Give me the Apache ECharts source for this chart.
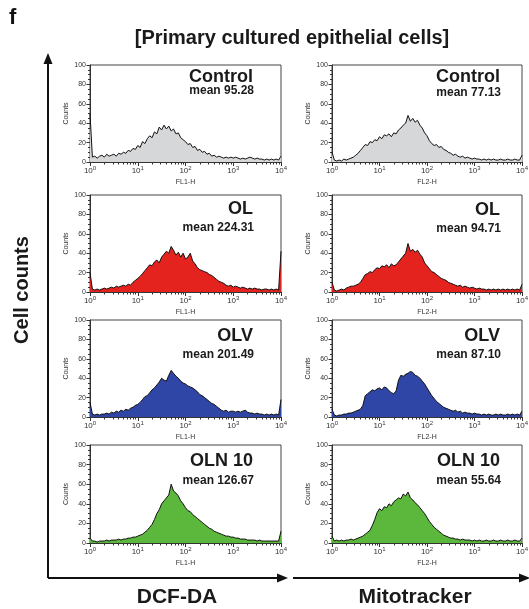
<!DOCTYPE html>
<html><head><meta charset="utf-8">
<script src="https://cdn.jsdelivr.net/npm/echarts@6/dist/echarts.min.js"></script>
<style>html,body{margin:0;padding:0;background:#fff}#c{width:529px;height:609px}</style>
</head><body><div id="c"></div>
<script>
// bin positions in decades (log10 of fluorescence)
const logBins = [0,0.05,0.1,0.15,0.2,0.25,0.3,0.35,0.4,0.45,0.5,0.55,0.6,0.65,0.7,0.75,0.8,0.85,0.9,0.95,
  1,1.05,1.1,1.15,1.2,1.25,1.3,1.35,1.4,1.45,1.5,1.55,1.6,1.65,1.7,1.75,1.8,1.85,1.9,1.95,
  2,2.05,2.1,2.15,2.2,2.25,2.3,2.35,2.4,2.45,2.5,2.55,2.6,2.65,2.7,2.75,2.8,2.85,2.9,2.95,
  3,3.05,3.1,3.15,3.2,3.25,3.3,3.35,3.4,3.45,3.5,3.55,3.6,3.65,3.7,3.75,3.8,3.85,3.9,3.95,4];
const decadeTicks = [0,1,2,3,4];
const yTickStep = 20;

const panelNames = ['Control','OL','OLV','OLN 10'];
const meansDCF = ['95.28','224.31','201.49','126.67'];
const meansMito = ['77.13','94.71','87.10','55.64'];
const channelNames = ['FL1-H','FL2-H'];
const columnTitles = ['DCF-DA','Mitotracker'];
const fillColors = ['#d6d7d9','#e4231f','#2f46a6','#5cb83c'];

const controlFL1 = [50,5,6,4,6,7,5,8,6,7,8,6,9,8,10,9,12,11,14,13,17,15,21,19,24,27,25,31,29,36,33,38,34,37,32,34,29,30,25,23,21,18,19,15,16,12,13,10,11,8,9,6,7,5,6,5,4,5,4,5,4,5,4,3,4,3,4,5,4,3,4,3,3,2,3,2,3,2,3,2,6];
const controlFL2 = [10,2,1,2,1,3,2,3,4,5,7,9,12,15,18,17,21,20,23,22,26,24,28,27,29,26,30,29,33,35,38,40,48,42,45,41,43,38,35,30,27,22,19,17,18,15,16,13,12,10,9,7,8,6,5,6,4,5,4,3,4,3,3,2,3,2,3,2,3,2,2,3,2,2,3,2,2,3,2,2,7];
const olFL1 = [20,3,2,3,2,3,4,3,4,5,4,6,5,6,7,6,8,7,10,12,14,16,19,22,25,28,27,31,33,30,36,39,42,40,47,43,38,41,36,40,34,36,40,32,29,25,23,22,21,20,18,17,15,13,11,10,9,7,6,7,5,6,5,4,5,4,3,4,3,4,3,3,2,3,3,2,3,2,3,2,42];
const olFL2 = [10,2,1,2,3,2,4,5,6,6,7,8,10,14,18,19,21,20,23,25,24,27,26,28,25,29,27,28,31,34,37,40,50,42,44,41,43,39,36,30,27,24,21,20,18,16,14,13,12,10,9,8,7,6,7,5,6,5,4,5,4,3,4,3,3,2,3,2,3,2,3,2,3,2,3,2,3,2,3,2,8];
const olvFL1 = [15,3,2,3,2,3,3,4,3,5,4,6,5,7,6,8,7,9,10,12,13,15,18,21,22,25,28,30,33,36,40,38,37,43,48,45,42,40,37,35,34,32,31,30,28,26,23,22,20,18,16,14,13,11,9,7,6,7,5,6,6,5,6,5,6,7,5,4,4,3,4,3,3,2,3,2,3,2,3,2,18];
const olvFL2 = [8,2,1,2,2,3,3,4,4,5,6,7,8,12,22,24,26,28,27,29,30,28,31,30,27,25,24,27,38,43,42,44,45,47,46,43,42,40,37,34,30,26,22,19,16,14,12,10,9,8,7,6,7,5,6,4,5,4,4,3,4,3,3,2,3,2,3,2,2,3,2,3,2,2,3,2,3,2,3,2,6];
const oln10FL1 = [5,2,2,1,2,2,2,3,2,3,3,3,4,3,4,4,5,5,6,6,7,8,9,11,13,16,19,24,30,34,40,43,46,49,60,53,51,48,43,40,36,33,32,29,27,25,23,21,19,17,15,14,12,11,10,9,8,7,7,6,6,5,5,4,4,4,3,3,3,3,2,3,2,2,2,2,2,2,2,2,12];
const oln10FL2 = [7,2,3,2,3,2,3,3,4,3,4,5,6,7,9,11,13,18,24,31,35,33,37,36,40,38,42,44,46,45,50,48,52,46,44,41,39,36,33,30,26,22,19,16,14,12,10,8,7,6,5,5,4,4,3,4,3,3,3,2,3,2,3,2,2,3,2,2,3,2,2,3,2,2,3,2,2,3,2,2,5];

const dcfSeries = [controlFL1, olFL1, olvFL1, oln10FL1];
const mitoSeries = [controlFL2, olFL2, olvFL2, oln10FL2];

// layout (pixels)
const rowTops = [65, 195, 320, 445];
const rowHeights = [97, 97, 97, 98];
const colLefts = [90, 332];
const colWidths = [191, 190];
const labelRight = [253, 500];
const nameOffset = [[12,14,16,16.5],[12,15,16.5,16.5]];
const meanOffset = [[26,32.5,34.5,35.5],[28,34,34.5,36]];

const minorTickPos = [];
for (let d = 0; d < 4; d++) for (let k = 2; k <= 9; k++) minorTickPos.push(d + Math.log10(k));

const grids = [], xAxes = [], yAxes = [], series = [], graphics = [];
let gi = 0;
for (let col = 0; col < 2; col++) {
  for (let row = 0; row < 4; row++) {
    grids.push({left: colLefts[col], top: rowTops[row], width: colWidths[col], height: rowHeights[row],
      show: true, borderColor: '#444', borderWidth: 1, backgroundColor: '#fff', outerBoundsMode: 'none'});
    xAxes.push({type: 'value', gridIndex: gi, min: 0, max: 4, interval: 1,
      name: channelNames[col], nameLocation: 'middle', nameGap: 17,
      nameTextStyle: {fontSize: 7, color: '#333', fontFamily: 'Liberation Sans'},
      axisLine: {show: true, lineStyle: {color: '#333', width: 1}},
      axisTick: {show: true, length: 4, lineStyle: {color: '#333'}},
      splitLine: {show: false},
      axisLabel: {margin: 3, formatter: v => '{b|10}{s|' + v + '}',
        rich: {b: {fontSize: 8, color: '#333', fontFamily: 'Liberation Sans'},
               s: {fontSize: 6, color: '#333', fontFamily: 'Liberation Sans', verticalAlign: 'bottom', padding: [0,0,5,0]}}}});
    xAxes.push({type: 'value', gridIndex: gi, min: 0, max: 4, position: 'bottom',
      axisLine: {show: false}, splitLine: {show: false}, axisLabel: {show: false},
      axisTick: {show: true, length: 2.5, customValues: minorTickPos, lineStyle: {color: '#333'}}});
    yAxes.push({type: 'value', gridIndex: gi, min: 0, max: 100, interval: yTickStep,
      name: 'Counts', nameLocation: 'middle', nameGap: 20, nameRotate: 90,
      nameTextStyle: {fontSize: 7, color: '#333', fontFamily: 'Liberation Sans'},
      axisLine: {show: true, lineStyle: {color: '#333', width: 1}},
      axisTick: {show: true, length: 3.5, lineStyle: {color: '#333'}},
      minorTick: {show: true, splitNumber: 4, length: 2, lineStyle: {color: '#333'}},
      splitLine: {show: false},
      axisLabel: {fontSize: 7, color: '#333', margin: 4, fontFamily: 'Liberation Sans'}});
    const vals = col === 0 ? dcfSeries[row] : mitoSeries[row];
    series.push({type: 'line', xAxisIndex: gi * 2, yAxisIndex: gi, symbol: 'none', silent: true,
      data: logBins.map((x, i) => [x, vals[i]]),
      lineStyle: {color: '#111', width: 1},
      areaStyle: {color: fillColors[row], opacity: 1}});
    const means = col === 0 ? meansDCF : meansMito;
    graphics.push({type: 'text', x: labelRight[col], y: rowTops[row] + nameOffset[col][row],
      style: {text: panelNames[row], align: 'right', verticalAlign: 'middle', fill: '#1a1a1a',
        font: 'bold 18px "Liberation Sans", Arial, sans-serif'}});
    graphics.push({type: 'text', x: labelRight[col] + 1, y: rowTops[row] + meanOffset[col][row],
      style: {text: 'mean ' + means[row], align: 'right', verticalAlign: 'middle', fill: '#1a1a1a',
        font: 'bold 12px "Liberation Sans", Arial, sans-serif'}});
    gi++;
  }
}

// decorations: letter, title, big arrows, axis captions
graphics.push({type: 'text', x: 9, y: 18, style: {text: 'f', verticalAlign: 'middle', fill: '#111',
  font: 'bold 22px "Liberation Sans", Arial, sans-serif'}});
graphics.push({type: 'text', x: 292, y: 38, style: {text: '[Primary cultured epithelial cells]', align: 'center',
  verticalAlign: 'middle', fill: '#1a1a1a', font: 'bold 20px "Liberation Sans", Arial, sans-serif'}});
graphics.push({type: 'text', x: 22, y: 290, rotation: Math.PI / 2, style: {text: 'Cell counts', align: 'center',
  verticalAlign: 'middle', fill: '#1a1a1a', font: 'bold 20px "Liberation Sans", Arial, sans-serif'}});
graphics.push({type: 'text', x: 177, y: 597, style: {text: columnTitles[0], align: 'center',
  verticalAlign: 'middle', fill: '#1a1a1a', font: 'bold 21px "Liberation Sans", Arial, sans-serif'}});
graphics.push({type: 'text', x: 415, y: 597, style: {text: columnTitles[1], align: 'center',
  verticalAlign: 'middle', fill: '#1a1a1a', font: 'bold 21px "Liberation Sans", Arial, sans-serif'}});
const arrowStroke = {stroke: '#111', lineWidth: 2};
graphics.push({type: 'polyline', shape: {points: [[48, 578], [48, 62]]}, style: arrowStroke});
graphics.push({type: 'polygon', shape: {points: [[48, 53], [43.5, 64], [52.5, 64]]}, style: {fill: '#111'}});
graphics.push({type: 'polyline', shape: {points: [[48, 578], [278, 578]]}, style: arrowStroke});
graphics.push({type: 'polygon', shape: {points: [[288, 578], [277, 573.5], [277, 582.5]]}, style: {fill: '#111'}});
graphics.push({type: 'polyline', shape: {points: [[293, 578], [520, 578]]}, style: arrowStroke});
graphics.push({type: 'polygon', shape: {points: [[530, 578], [519, 573.5], [519, 582.5]]}, style: {fill: '#111'}});

const chart = echarts.init(document.getElementById('c'), null, {renderer: 'canvas'});
chart.setOption({
  animation: false,
  backgroundColor: '#fff',
  grid: grids, xAxis: xAxes, yAxis: yAxes, series: series,
  graphic: graphics
});
</script></body></html>
